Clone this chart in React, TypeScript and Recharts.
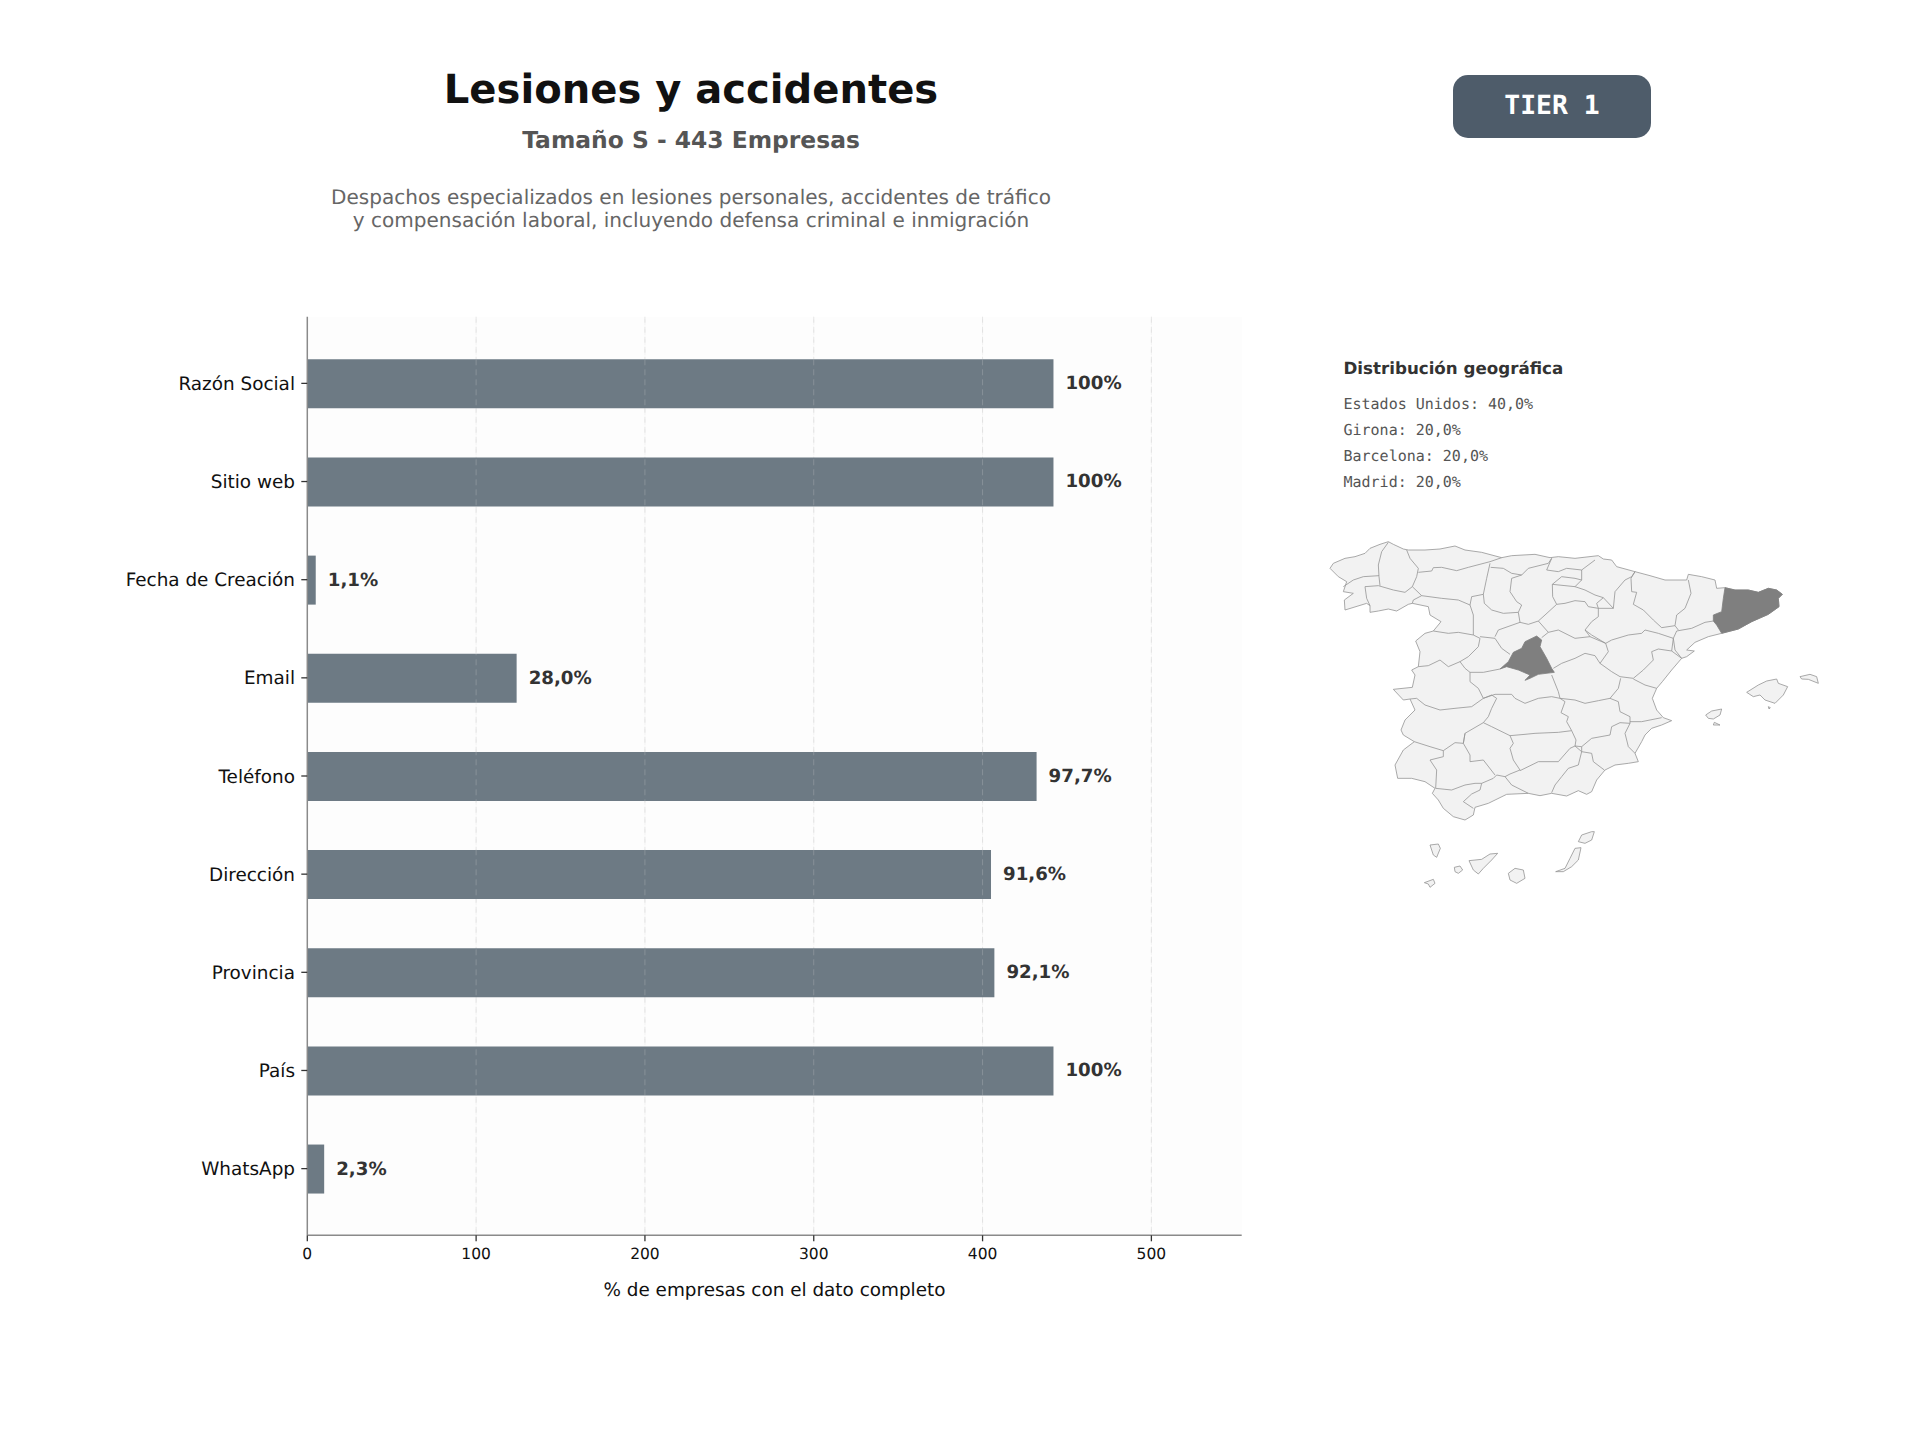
import {
  Bar,
  BarChart,
  CartesianGrid,
  LabelList,
  ReferenceLine,
  Scatter,
  ScatterChart,
  XAxis,
  YAxis,
} from "recharts";

const categories = [
  "Razón Social",
  "Sitio web",
  "Fecha de Creación",
  "Email",
  "Teléfono",
  "Dirección",
  "Provincia",
  "País",
  "WhatsApp",
];
const counts = [442, 442, 5, 124, 432, 405, 407, 442, 10];
const percentLabels = ["100%", "100%", "1,1%", "28,0%", "97,7%", "91,6%", "92,1%", "100%", "2,3%"];
const xTicks = [0, 100, 200, 300, 400, 500];
const gridTicks = [100, 200, 300, 400, 500];
const geoLines = ["Estados Unidos: 40,0%", "Girona: 20,0%", "Barcelona: 20,0%", "Madrid: 20,0%"];

// map outlines, in map units (0-1500 across, 0-1080 down)
const mainland = [
  [15,100],[25,85],[60,70],[90,65],[120,55],[135,40],[165,28],[190,20],[205,28],[235,42],[250,45],[300,45],[345,42],[390,33],[420,45],[470,52],[530,68],[560,62],[630,58],[675,68],[700,65],[750,70],[820,62],[835,72],[860,75],[875,95],[930,110],[975,122],[1020,135],[1085,135],[1090,118],[1130,125],[1170,135],[1175,160],[1200,158],[1230,165],[1270,165],[1300,172],[1330,160],[1355,165],[1372,178],[1360,190],[1362,215],[1330,238],[1280,260],[1240,282],[1190,295],[1150,305],[1110,322],[1085,345],[1108,348],[1085,365],[1070,370],[1040,405],[1012,440],[995,460],[982,490],[995,525],[1015,548],[1040,557],[1010,570],[980,580],[960,600],[950,620],[930,655],[940,680],[910,685],[870,690],[840,705],[815,735],[800,770],[785,778],[760,767],[725,783],[680,775],[645,782],[610,775],[545,778],[490,805],[450,817],[445,840],[420,855],[385,845],[355,820],[340,795],[322,775],[330,760],[300,740],[260,730],[218,730],[210,690],[235,645],[268,620],[235,600],[228,585],[240,555],[270,525],[255,492],[235,495],[205,463],[262,457],[270,420],[260,405],[280,395],[285,350],[272,318],[300,295],[325,288],[348,260],[315,240],[310,215],[262,205],[250,208],[215,228],[190,222],[160,228],[135,232],[135,212],[125,205],[60,225],[58,195],[85,175],[55,170],[65,140],[40,125],
];
const madrid = [[635,303],[650,315],[645,335],[665,370],[680,400],[688,412],[640,418],[615,430],[600,436],[615,420],[580,405],[545,395],[525,402],[550,380],[565,352],[590,340],[600,320]];
const gironaBarcelona = [[1200,158],[1230,165],[1270,165],[1300,172],[1330,160],[1355,165],[1372,178],[1360,190],[1362,215],[1330,238],[1280,260],[1240,282],[1190,295],[1175,270],[1165,258],[1165,240],[1190,230],[1195,190]];
const islands = [
  [[1265,472],[1300,450],[1325,438],[1355,432],[1360,445],[1388,455],[1375,480],[1350,505],[1320,495],[1305,480],[1285,485]],
  [[1425,425],[1455,418],[1475,425],[1480,445],[1450,433],[1430,432]],
  [[1142,540],[1160,528],[1190,522],[1185,540],[1165,552],[1150,550]],
  [[1168,562],[1185,570],[1165,570]],
  [[1330,515],[1336,518],[1332,522]],
  [[315,930],[340,927],[346,940],[335,967],[325,960]],
  [[298,1043],[325,1033],[330,1045],[315,1057],[310,1047]],
  [[388,997],[405,993],[413,1005],[400,1015],[390,1010]],
  [[432,977],[470,973],[495,957],[518,955],[500,975],[475,1000],[460,1017],[445,1005]],
  [[550,1015],[570,1000],[595,1005],[600,1030],[575,1045],[555,1035]],
  [[692,1010],[720,1000],[735,970],[750,940],[768,938],[760,975],[740,995],[715,1010]],
  [[760,920],[770,900],[800,890],[808,890],[800,915],[780,925]],
];
const borders = [
  [[190,22],[170,50],[160,90],[162,125],[165,152]],
  [[55,155],[85,135],[115,125],[162,122]],
  [[120,155],[160,152],[205,165],[240,172],[262,155],[290,182]],
  [[120,155],[125,190],[135,212]],
  [[245,45],[255,70],[280,100],[275,125],[262,155]],
  [[280,112],[320,108],[325,98],[350,97],[395,107],[430,97],[495,80],[530,68]],
  [[497,97],[535,100],[560,115],[590,120],[610,100],[670,85],[680,70]],
  [[290,182],[350,190],[400,195],[435,210]],
  [[290,182],[265,195],[262,205]],
  [[495,85],[485,130],[475,178],[440,185],[435,210]],
  [[435,210],[445,240],[445,300]],
  [[325,288],[370,295],[400,292],[445,300]],
  [[445,300],[465,310],[460,335],[430,365],[405,380]],
  [[280,395],[310,392],[345,375],[370,395],[405,380]],
  [[405,380],[420,400],[435,412],[435,440],[460,460],[475,490]],
  [[255,492],[275,490],[300,510],[345,525],[390,520],[440,515],[475,490]],
  [[475,490],[500,480],[515,490],[500,520],[490,545],[475,563]],
  [[268,620],[315,635],[355,647],[390,623],[415,625],[420,595],[475,563]],
  [[465,305],[510,310],[530,340],[555,358]],
  [[435,412],[475,412],[525,402]],
  [[475,178],[478,205],[500,225],[535,235],[580,232]],
  [[580,232],[585,262],[520,285],[510,305]],
  [[590,120],[560,130],[555,170],[575,200],[590,210],[580,232]],
  [[585,262],[610,268],[640,258],[670,292],[650,308]],
  [[640,258],[660,240],[695,208],[683,185],[682,148],[710,125]],
  [[695,208],[720,205],[750,197],[780,200],[790,215],[820,220]],
  [[682,148],[750,155],[780,165],[810,180],[835,188],[815,205],[820,220]],
  [[680,70],[665,105],[700,110],[725,100],[770,105],[810,75]],
  [[710,125],[750,130],[770,135],[770,105]],
  [[750,155],[770,135]],
  [[820,220],[820,245],[800,260],[780,285],[790,298],[795,305]],
  [[670,292],[700,285],[750,310],[795,305],[842,325]],
  [[820,220],[865,220],[870,170],[900,135],[920,125],[930,110]],
  [[835,188],[865,220]],
  [[930,110],[918,130],[920,170],[935,172],[925,208],[955,225],[985,255],[1010,278],[1050,272],[1060,285]],
  [[1090,135],[1098,175],[1080,220],[1055,240],[1050,272]],
  [[1055,288],[1100,280],[1140,262],[1165,258]],
  [[1055,288],[1045,310],[1050,345],[1070,370]],
  [[1045,310],[1000,295],[960,285],[950,295],[910,300],[860,315],[842,325]],
  [[842,325],[800,300],[780,285]],
  [[842,325],[850,350],[825,385]],
  [[825,385],[860,410],[885,425],[925,430],[955,405],[985,375],[980,350],[1000,342],[1040,348],[1045,310]],
  [[1040,348],[1070,370]],
  [[925,432],[960,450],[995,460]],
  [[887,430],[880,460],[855,490],[880,500],[885,530],[915,545],[915,565]],
  [[915,560],[950,560],[1010,548]],
  [[915,565],[885,563],[860,575],[855,600],[800,610],[770,635],[750,633]],
  [[915,565],[900,595],[910,635],[930,655]],
  [[825,385],[810,362],[780,355],[750,370],[710,385],[685,400]],
  [[855,490],[820,497],[780,505],[750,495],[705,490]],
  [[680,420],[700,470],[705,490]],
  [[475,490],[510,478],[560,478],[570,490],[600,505],[640,490],[680,485],[705,490]],
  [[475,563],[500,575],[555,602],[600,598],[630,595],[700,592],[740,587]],
  [[705,490],[720,500],[708,533],[730,545],[725,560],[740,587]],
  [[740,587],[753,615],[750,633]],
  [[555,602],[565,625],[555,640],[565,675],[585,705],[555,717],[540,725]],
  [[585,707],[640,680],[700,680],[735,640],[750,633],[770,650]],
  [[770,635],[770,650],[760,690],[730,700],[710,725],[690,750],[680,773]],
  [[770,650],[800,655],[805,680],[838,705]],
  [[540,725],[515,720],[505,730],[470,745],[465,765],[440,777],[415,800],[445,820]],
  [[540,725],[560,750],[610,775]],
  [[420,595],[415,625],[435,660],[435,680],[475,675],[510,720]],
  [[355,647],[355,665],[315,675],[335,705],[332,760]],
  [[332,760],[380,765],[420,750],[450,745],[470,745]],
];

const tableData = categories.map((name, i) => ({
  name,
  count: counts[i],
  label: percentLabels[i],
}));

const toPoints = (ring: number[][], closed: boolean) =>
  (closed ? [...ring, ring[0]] : ring).map(([x, y]) => ({ x, y }));

const FONT = "'DejaVu Sans', sans-serif";
const MONO = "'DejaVu Sans Mono', monospace";

const noDot = () => null;

const Txt = ({ cx, left, y, size, color, bold, mono, children }: any) => (
  <div
    style={{
      position: "absolute",
      left: cx !== undefined ? cx - 600 : left,
      width: cx !== undefined ? 1200 : undefined,
      top: y - 30,
      height: 60,
      lineHeight: "60px",
      textAlign: cx !== undefined ? "center" : "left",
      whiteSpace: "nowrap",
      fontFamily: mono ? MONO : FONT,
      fontSize: size,
      fontWeight: bold ? 700 : 400,
      color,
      textRendering: "geometricPrecision",
    }}
  >
    {children}
  </div>
);

const SpainMap = () => (
  <ScatterChart
    width={500}
    height={360}
    margin={{ top: 0, right: 0, bottom: 0, left: 0 }}
    style={{ position: "absolute", left: 1325, top: 535 }}
  >
    <XAxis type="number" dataKey="x" domain={[0, 1500]} hide />
    <YAxis type="number" dataKey="y" domain={[0, 1080]} reversed hide />
    {[mainland, ...islands].map((ring, i) => (
      <Scatter
        key={`land-${i}`}
        data={toPoints(ring, true)}
        shape={noDot}
        line={{ stroke: "#949494", strokeWidth: 0.8, fill: "#f2f2f2" }}
        isAnimationActive={false}
      />
    ))}
    {borders.map((line, i) => (
      <Scatter
        key={`border-${i}`}
        data={toPoints(line, false)}
        shape={noDot}
        line={{ stroke: "#949494", strokeWidth: 0.8 }}
        isAnimationActive={false}
      />
    ))}
    {[madrid, gironaBarcelona].map((ring, i) => (
      <Scatter
        key={`active-${i}`}
        data={toPoints(ring, true)}
        shape={noDot}
        line={{ stroke: "#7f7f7f", strokeWidth: 0.8, fill: "#7f7f7f" }}
        isAnimationActive={false}
      />
    ))}
  </ScatterChart>
);

const App = () => {
  return (
    <div
      style={{
        position: "absolute",
        left: 0,
        top: 0,
        width: 1920,
        height: 1440,
        background: "#ffffff",
        overflow: "hidden",
      }}
    >
      <Txt cx={691} y={90} size={40.1} color="#111111" bold>
        Lesiones y accidentes
      </Txt>
      <Txt cx={691} y={140} size={23.4} color="#555555" bold>
        Tamaño S - 443 Empresas
      </Txt>
      <Txt cx={691} y={196.5} size={20.05} color="#666666">
        Despachos especializados en lesiones personales, accidentes de tráfico
      </Txt>
      <Txt cx={691} y={219.5} size={20.05} color="#666666">
        y compensación laboral, incluyendo defensa criminal e inmigración
      </Txt>

      <div
        style={{
          position: "absolute",
          left: 1453,
          top: 75,
          width: 198,
          height: 63,
          borderRadius: 15,
          background: "#4e5c6a",
        }}
      />
      <Txt cx={1552} y={105.5} size={26.4} color="#ffffff" bold mono>
        TIER 1
      </Txt>

      <BarChart
        width={1260}
        height={1320}
        data={tableData}
        layout="vertical"
        margin={{ top: 316.7, right: 18.3, bottom: 44.7, left: 107.3 }}
        style={{ position: "absolute", left: 0, top: 0, textRendering: "geometricPrecision" }}
      >
        <CartesianGrid
          horizontal={false}
          verticalValues={gridTicks}
          stroke="#e6e6e6"
          strokeDasharray="6 4"
          fill="#fdfdfd"
        />
        <XAxis
          type="number"
          domain={[0, 553.5]}
          ticks={xTicks}
          height={40}
          stroke="#8a8a8a"
          strokeWidth={1.5}
          tickMargin={7}
          tickLine={{ stroke: "#333333", strokeWidth: 1.3 }}
          tick={{ fill: "#111111", fontFamily: FONT, fontSize: 15.5 }}
          label={{
            value: "% de empresas con el dato completo",
            position: "insideBottom",
            offset: -21,
            fill: "#111111",
            fontFamily: FONT,
            fontSize: 18.4,
          }}
        />
        <YAxis
          type="category"
          dataKey="name"
          width={200}
          padding={{ top: 17.6, bottom: 17.6 }}
          stroke="#8a8a8a"
          strokeWidth={1.5}
          interval={0}
          tickMargin={6.3}
          tickLine={{ stroke: "#333333", strokeWidth: 1.3 }}
          tick={{ fill: "#111111", fontFamily: FONT, fontSize: 18.4 }}
        />
        <Bar dataKey="count" fill="#6d7a84" barSize={49} isAnimationActive={false}>
          <LabelList
            dataKey="label"
            position="right"
            offset={12}
            dy={-1}
            fill="#333333"
            fontFamily={FONT}
            fontSize={18.2}
            fontWeight={700}
          />
        </Bar>
        {gridTicks.map((tick) => (
          <ReferenceLine
            key={tick}
            x={tick}
            stroke="#d8d8d8"
            strokeOpacity={0.25}
            strokeDasharray="6 4"
          />
        ))}
      </BarChart>

      <Txt left={1343.5} y={368} size={16.7} color="#333333" bold>
        Distribución geográfica
      </Txt>
      {geoLines.map((line, i) => (
        <Txt key={line} left={1343.5} y={403.5 + i * 26} size={15} color="#555555" mono>
          {line}
        </Txt>
      ))}

      <SpainMap />
    </div>
  );
};

export default App;
